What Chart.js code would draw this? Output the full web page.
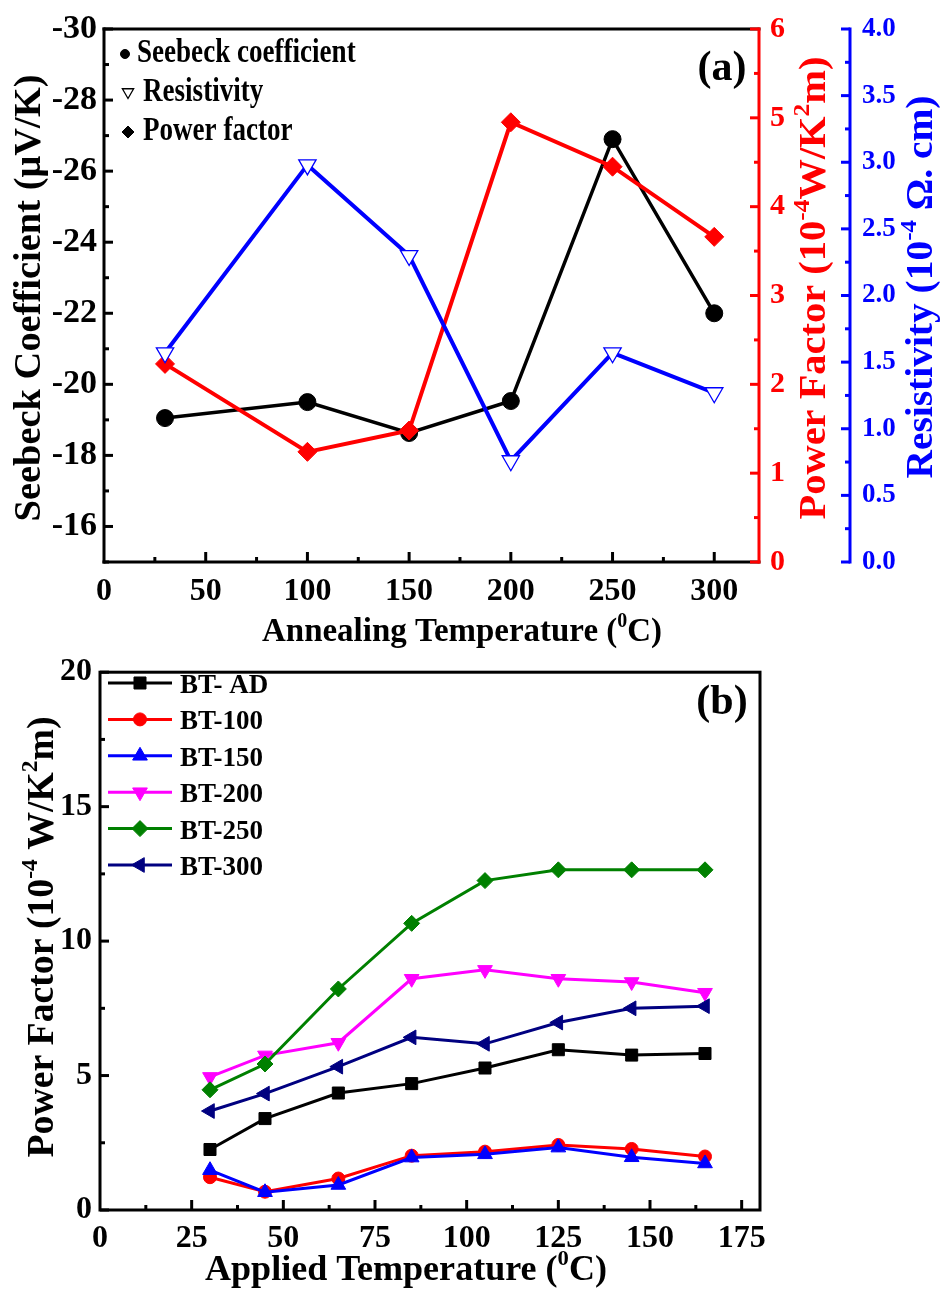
<!DOCTYPE html>
<html>
<head>
<meta charset="utf-8">
<script src="https://cdn.jsdelivr.net/npm/chart.js@4.4.1/dist/chart.umd.min.js"></script>
<style>
  body { margin: 0; background: #fff; }
  canvas { position: absolute; left: 0; }
</style>
</head>
<body>
<canvas id="chartA" width="941" height="660" style="top:0"></canvas>
<canvas id="chartB" width="941" height="645" style="top:645px"></canvas>
<script>
const FONT = '"Liberation Serif", "Times New Roman", serif';

// (a) annealing temperature series
const annealTemps = [30, 100, 150, 200, 250, 300];
const seebeck = [-19.05, -19.5, -18.63, -19.53, -26.9, -22.0];
const powerFactorA = [2.23, 1.24, 1.48, 4.95, 4.45, 3.66];
const resistivity = [1.57, 2.98, 2.3, 0.76, 1.57, 1.27];
const seriesNamesA = ['Seebeck coefficient', 'Resistivity', 'Power factor'];

// (b) applied temperature series
const appliedTemps = [30, 45, 65, 85, 105, 125, 145, 165];
const btAD = [2.25, 3.4, 4.35, 4.7, 5.28, 5.96, 5.76, 5.82];
const bt100 = [1.22, 0.68, 1.17, 2.02, 2.17, 2.42, 2.27, 1.99];
const bt150 = [1.48, 0.66, 0.93, 1.95, 2.07, 2.32, 1.96, 1.73];
const bt200 = [4.95, 5.75, 6.22, 8.6, 8.93, 8.6, 8.48, 8.08];
const bt250 = [4.47, 5.43, 8.22, 10.66, 12.25, 12.65, 12.65, 12.65];
const bt300 = [3.68, 4.33, 5.33, 6.42, 6.18, 6.97, 7.5, 7.58];
const seriesNamesB = ['BT- AD', 'BT-100', 'BT-150', 'BT-200', 'BT-250', 'BT-300'];

const toXY = (xs, ys) => xs.map((x, i) => ({ x: x, y: ys[i] }));
const sup = t => ({ t: t, sup: true });
const noGrid = { display: true, drawOnChartArea: false, drawTicks: false };
const tickFont = size => ({ family: FONT, size: size, weight: 'bold' });

// text with superscripts, centred on (x, y) along its baseline
function drawRich(ctx, parts, o) {
    ctx.save();
    ctx.fillStyle = o.color || '#000';
    ctx.textAlign = 'left';
    ctx.textBaseline = 'alphabetic';
    const main = `bold ${o.size}px ${FONT}`;
    const small = `bold ${Math.round(o.size * 0.62)}px ${FONT}`;
    let total = 0;
    const items = parts.map(p => {
        const s = typeof p === 'string' ? { t: p, sup: false } : p;
        ctx.font = s.sup ? small : main;
        const w = ctx.measureText(s.t).width;
        total += w;
        return { t: s.t, sup: s.sup, w: w };
    });
    const k = o.width ? o.width / total : (o.scaleX || 1);
    ctx.translate(o.x, o.y);
    if (o.rot) ctx.rotate(o.rot);
    ctx.scale(k, 1);
    let cx = o.left ? 0 : -total / 2;
    items.forEach(s => {
        ctx.font = s.sup ? small : main;
        ctx.fillText(s.t, cx, s.sup ? -o.size * 0.42 : 0);
        cx += s.w;
    });
    ctx.restore();
}

function line(ctx, x1, y1, x2, y2, color) {
    ctx.strokeStyle = color;
    ctx.beginPath();
    ctx.moveTo(x1, y1);
    ctx.lineTo(x2, y2);
    ctx.stroke();
}

// inward tick marks on a scale; along = pixel of the axis line
function ticks(ctx, scale, from, to, step, len, along, dir, color) {
    for (let v = from; v <= to + 1e-9; v += step) {
        const p = scale.getPixelForValue(v);
        if (scale.isHorizontal()) line(ctx, p, along, p, along - len, color);
        else line(ctx, along, p, along + dir * len, p, color);
    }
}

function marker(ctx, ds, x, y, r, color) {
    ctx.save();
    const fill = ds.pointBackgroundColor === '#ffffff' ? '#ffffff' : (color || ds.pointBackgroundColor || ds.borderColor);
    ctx.fillStyle = fill;
    ctx.strokeStyle = color || ds.borderColor;
    ctx.lineWidth = ds.pointBorderWidth || 1;
    Chart.helpers.drawPoint(ctx, {
        pointStyle: ds.pointStyle, rotation: ds.pointRotation || 0,
        radius: r || ds.pointRadius, borderWidth: ds.pointBorderWidth || 1
    }, x, y);
    ctx.restore();
}

const decorA = {
    id: 'decorA',
    afterDraw(chart) {
        const { ctx, chartArea: a, scales } = chart;
        const red = '#ff0000', blue = '#0000ff';
        ctx.save();
        ctx.lineWidth = 3;
        ctx.lineCap = 'square';
        line(ctx, a.left, a.top, a.left, a.bottom, '#000');
        line(ctx, a.left, a.bottom, a.right, a.bottom, '#000');
        line(ctx, a.left, a.top, a.right, a.top, '#000');
        line(ctx, a.right, a.top, a.right, a.bottom, red);
        const bx = scales.yRes.left;
        line(ctx, bx, a.top, bx, a.bottom, blue);
        ctx.lineCap = 'butt';
        ticks(ctx, scales.ySeebeck, -30, -16, 2, 9, a.left, 1, '#000');
        ticks(ctx, scales.ySeebeck, -29, -15, 2, 5, a.left, 1, '#000');
        ticks(ctx, scales.x, 50, 300, 50, 10, a.bottom, 0, '#000');
        ticks(ctx, scales.x, 25, 275, 50, 5, a.bottom, 0, '#000');
        ticks(ctx, scales.yPF, 0, 6, 1, 9, a.right, -1, red);
        ticks(ctx, scales.yPF, 0.5, 5.5, 1, 5, a.right, -1, red);
        ticks(ctx, scales.yRes, 0, 4, 0.5, 9, bx, -1, blue);
        ticks(ctx, scales.yRes, 0.25, 3.75, 0.5, 5, bx, -1, blue);
        ctx.restore();

        const rot = -Math.PI / 2;
        drawRich(ctx, ['Seebeck Coefficient (\u03bcV/K)'], { x: 40, y: 298, rot: rot, size: 38, width: 447 });
        drawRich(ctx, ['Power Factor (10', sup('-4'), 'W/K', sup('2'), 'm)'], { x: 825, y: 288, rot: rot, size: 38, width: 463, color: red });
        drawRich(ctx, ['Resistivity (10', sup('-4'), ' \u03a9. cm)'], { x: 932, y: 287, rot: rot, size: 38, width: 383, color: blue });
        drawRich(ctx, ['Annealing Temperature (', sup('0'), 'C)'], { x: 462, y: 641, size: 33, width: 400 });
        drawRich(ctx, ['(a)'], { x: 722, y: 80, size: 42 });

        // legend, symbols in black as in the original
        const ds = chart.data.datasets;
        const rows = [[125, 54, 4.5, 137, 62], [128, 92, 6.5, 143, 101], [128, 132, 6, 143, 140]];
        seriesNamesA.forEach((name, i) => {
            const d = ds.find(s => s.label === name);
            const r = rows[i];
            marker(ctx, d, r[0], r[1], r[2], '#000');
            drawRich(ctx, [name], { x: r[3], y: r[4], size: 33, scaleX: 0.82, left: true });
        });
    }
};

const decorB = {
    id: 'decorB',
    afterDraw(chart) {
        const { ctx, chartArea: a, scales } = chart;
        ctx.save();
        ctx.lineWidth = 3;
        ctx.lineCap = 'square';
        ctx.strokeRect(a.left, a.top, a.right - a.left, a.bottom - a.top);
        ctx.lineCap = 'butt';
        ticks(ctx, scales.y, 0, 20, 5, 9, a.left, 1, '#000');
        ticks(ctx, scales.y, 2.5, 17.5, 5, 5, a.left, 1, '#000');
        ticks(ctx, scales.x, 25, 175, 25, 10, a.bottom, 0, '#000');
        ticks(ctx, scales.x, 12.5, 162.5, 25, 5, a.bottom, 0, '#000');
        ctx.restore();

        drawRich(ctx, ['Power Factor (10', sup('-4'), ' W/K', sup('2'), 'm)'], { x: 53, y: 292, rot: -Math.PI / 2, size: 37, width: 441 });
        drawRich(ctx, ['Applied Temperature (', sup('0'), 'C)'], { x: 406, y: 635, size: 35, width: 402 });
        drawRich(ctx, ['(b)'], { x: 722, y: 69, size: 42 });

        // legend: line + marker + label
        chart.data.datasets.forEach((d, i) => {
            const y = 38 + i * 36.4;
            ctx.save();
            ctx.lineWidth = 3;
            line(ctx, 108, y, 172, y, d.borderColor);
            ctx.restore();
            marker(ctx, d, 140, y);
            ctx.save();
            ctx.fillStyle = '#000';
            ctx.font = `bold 27px ${FONT}`;
            ctx.fillText(d.label, 180, y + 10);
            ctx.restore();
        });
    }
};

const baseOptions = {
    responsive: false,
    animation: false,
    devicePixelRatio: 1,
    plugins: { legend: { display: false }, tooltip: { enabled: false } },
    elements: { line: { tension: 0 } }
};

new Chart(document.getElementById('chartA'), {
    type: 'line',
    data: {
        datasets: [
            {
                label: 'Resistivity', data: toXY(annealTemps, resistivity), yAxisID: 'yRes',
                borderColor: '#0000ff', borderWidth: 4, pointStyle: 'triangle', pointRotation: 180,
                pointRadius: 10, pointBackgroundColor: '#ffffff', pointBorderWidth: 1.3, order: 0
            },
            {
                label: 'Power factor', data: toXY(annealTemps, powerFactorA), yAxisID: 'yPF',
                borderColor: '#ff0000', borderWidth: 4, pointStyle: 'rectRot',
                pointRadius: 9.5, pointBackgroundColor: '#ff0000', pointBorderWidth: 1, order: 1
            },
            {
                label: 'Seebeck coefficient', data: toXY(annealTemps, seebeck), yAxisID: 'ySeebeck',
                borderColor: '#000000', borderWidth: 3.5, pointStyle: 'circle',
                pointRadius: 8.5, pointBackgroundColor: '#000000', pointBorderWidth: 1, order: 2
            }
        ]
    },
    options: Object.assign({}, baseOptions, {
        layout: { padding: { top: 26, left: 0, right: 0, bottom: 0 } },
        scales: {
            x: {
                type: 'linear', position: 'bottom', min: 0, max: 322,
                afterFit: s => { s.height = 98; },
                grid: noGrid, border: { display: false },
                ticks: { stepSize: 50, includeBounds: false, padding: 11, maxRotation: 0, color: '#000', font: tickFont(32) }
            },
            ySeebeck: {
                type: 'linear', position: 'left', min: -30, max: -15, reverse: true,
                afterFit: s => { s.width = 104; },
                grid: noGrid, border: { display: false },
                ticks: { stepSize: 2, includeBounds: false, padding: 7, color: '#000', font: tickFont(34) }
            },
            yPF: {
                type: 'linear', position: 'right', min: 0, max: 6, weight: 0,
                afterFit: s => { s.width = 91; },
                grid: noGrid, border: { display: false },
                ticks: { stepSize: 1, padding: 11, color: '#ff0000', font: tickFont(30) }
            },
            yRes: {
                type: 'linear', position: 'right', min: 0, max: 4, weight: 1,
                afterFit: s => { s.width = 91; },
                grid: noGrid, border: { display: false },
                ticks: { stepSize: 0.5, padding: 12, color: '#0000ff', font: tickFont(27), callback: v => v.toFixed(1) }
            }
        }
    }),
    plugins: [decorA]
});

const colorsB = ['#000000', '#ff0000', '#0000ff', '#ff00ff', '#008000', '#000080'];
const stylesB = [
    { pointStyle: 'rect', pointRotation: 0, pointRadius: 8.5 },
    { pointStyle: 'circle', pointRotation: 0, pointRadius: 6.5 },
    { pointStyle: 'triangle', pointRotation: 0, pointRadius: 8.5 },
    { pointStyle: 'triangle', pointRotation: 180, pointRadius: 8.5 },
    { pointStyle: 'rectRot', pointRotation: 0, pointRadius: 8 },
    { pointStyle: 'triangle', pointRotation: -90, pointRadius: 8.5 }
];
const valuesB = [btAD, bt100, bt150, bt200, bt250, bt300];

new Chart(document.getElementById('chartB'), {
    type: 'line',
    data: {
        datasets: seriesNamesB.map((name, i) => Object.assign({
            label: name,
            data: toXY(appliedTemps, valuesB[i]),
            borderColor: colorsB[i],
            backgroundColor: colorsB[i],
            pointBackgroundColor: colorsB[i],
            pointBorderWidth: 1,
            borderWidth: 3,
            order: seriesNamesB.length - i
        }, stylesB[i]))
    },
    options: Object.assign({}, baseOptions, {
        layout: { padding: { top: 18, left: 0, right: 181, bottom: 0 } },
        scales: {
            x: {
                type: 'linear', position: 'bottom', min: 0, max: 180,
                afterFit: s => { s.height = 80; },
                grid: noGrid, border: { display: false },
                ticks: { stepSize: 25, includeBounds: false, padding: 10, maxRotation: 0, color: '#000', font: tickFont(32) }
            },
            y: {
                type: 'linear', position: 'left', min: 0, max: 20,
                afterFit: s => { s.width = 100; },
                grid: noGrid, border: { display: false },
                ticks: { stepSize: 5, includeBounds: false, padding: 8, color: '#000', font: tickFont(32) }
            }
        }
    }),
    plugins: [decorB]
});
</script>
</body>
</html>
